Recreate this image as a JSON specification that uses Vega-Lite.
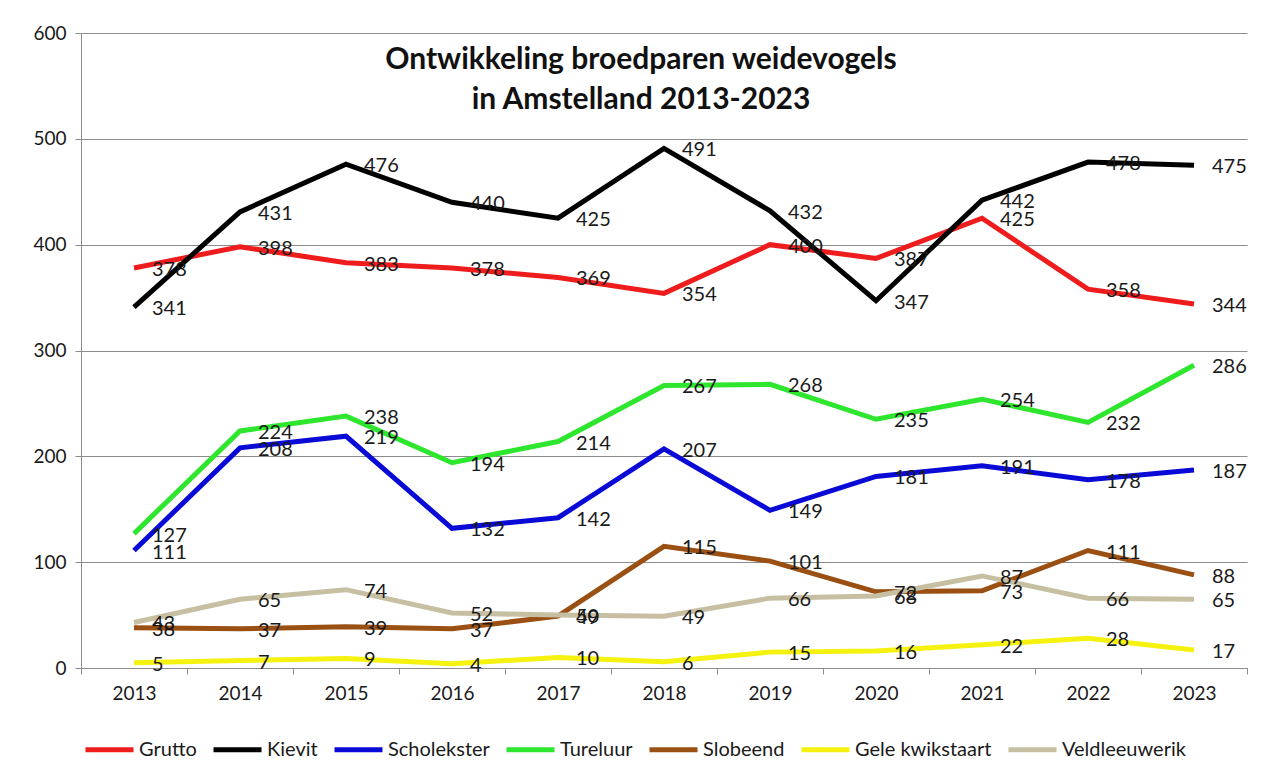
{
  "$schema": "https://vega.github.io/schema/vega-lite/v6.json",
  "width": 1166,
  "height": 635,
  "autosize": {"type": "none"},
  "padding": {"left": 81, "top": 33, "right": 26, "bottom": 109},
  "background": "white",
  "config": {
    "font": "Lato",
    "view": {"stroke": null}
  },
  "title": {
    "text": ["Ontwikkeling broedparen weidevogels", "in Amstelland 2013-2023"],
    "fontSize": 30,
    "fontWeight": "bold",
    "font": "Lato",
    "color": "#111111",
    "lineHeight": 40,
    "anchor": "middle",
    "dx": -23,
    "offset": -91
  },
  "data": {
    "values": [
      {"year": "2013", "species": "Grutto", "value": 378},
      {"year": "2014", "species": "Grutto", "value": 398},
      {"year": "2015", "species": "Grutto", "value": 383},
      {"year": "2016", "species": "Grutto", "value": 378},
      {"year": "2017", "species": "Grutto", "value": 369},
      {"year": "2018", "species": "Grutto", "value": 354},
      {"year": "2019", "species": "Grutto", "value": 400},
      {"year": "2020", "species": "Grutto", "value": 387},
      {"year": "2021", "species": "Grutto", "value": 425},
      {"year": "2022", "species": "Grutto", "value": 358},
      {"year": "2023", "species": "Grutto", "value": 344},
      {"year": "2013", "species": "Kievit", "value": 341},
      {"year": "2014", "species": "Kievit", "value": 431},
      {"year": "2015", "species": "Kievit", "value": 476},
      {"year": "2016", "species": "Kievit", "value": 440},
      {"year": "2017", "species": "Kievit", "value": 425},
      {"year": "2018", "species": "Kievit", "value": 491},
      {"year": "2019", "species": "Kievit", "value": 432},
      {"year": "2020", "species": "Kievit", "value": 347},
      {"year": "2021", "species": "Kievit", "value": 442},
      {"year": "2022", "species": "Kievit", "value": 478},
      {"year": "2023", "species": "Kievit", "value": 475},
      {"year": "2013", "species": "Scholekster", "value": 111},
      {"year": "2014", "species": "Scholekster", "value": 208},
      {"year": "2015", "species": "Scholekster", "value": 219},
      {"year": "2016", "species": "Scholekster", "value": 132},
      {"year": "2017", "species": "Scholekster", "value": 142},
      {"year": "2018", "species": "Scholekster", "value": 207},
      {"year": "2019", "species": "Scholekster", "value": 149},
      {"year": "2020", "species": "Scholekster", "value": 181},
      {"year": "2021", "species": "Scholekster", "value": 191},
      {"year": "2022", "species": "Scholekster", "value": 178},
      {"year": "2023", "species": "Scholekster", "value": 187},
      {"year": "2013", "species": "Tureluur", "value": 127},
      {"year": "2014", "species": "Tureluur", "value": 224},
      {"year": "2015", "species": "Tureluur", "value": 238},
      {"year": "2016", "species": "Tureluur", "value": 194},
      {"year": "2017", "species": "Tureluur", "value": 214},
      {"year": "2018", "species": "Tureluur", "value": 267},
      {"year": "2019", "species": "Tureluur", "value": 268},
      {"year": "2020", "species": "Tureluur", "value": 235},
      {"year": "2021", "species": "Tureluur", "value": 254},
      {"year": "2022", "species": "Tureluur", "value": 232},
      {"year": "2023", "species": "Tureluur", "value": 286},
      {"year": "2013", "species": "Slobeend", "value": 38},
      {"year": "2014", "species": "Slobeend", "value": 37},
      {"year": "2015", "species": "Slobeend", "value": 39},
      {"year": "2016", "species": "Slobeend", "value": 37},
      {"year": "2017", "species": "Slobeend", "value": 49},
      {"year": "2018", "species": "Slobeend", "value": 115},
      {"year": "2019", "species": "Slobeend", "value": 101},
      {"year": "2020", "species": "Slobeend", "value": 72},
      {"year": "2021", "species": "Slobeend", "value": 73},
      {"year": "2022", "species": "Slobeend", "value": 111},
      {"year": "2023", "species": "Slobeend", "value": 88},
      {"year": "2013", "species": "Gele kwikstaart", "value": 5},
      {"year": "2014", "species": "Gele kwikstaart", "value": 7},
      {"year": "2015", "species": "Gele kwikstaart", "value": 9},
      {"year": "2016", "species": "Gele kwikstaart", "value": 4},
      {"year": "2017", "species": "Gele kwikstaart", "value": 10},
      {"year": "2018", "species": "Gele kwikstaart", "value": 6},
      {"year": "2019", "species": "Gele kwikstaart", "value": 15},
      {"year": "2020", "species": "Gele kwikstaart", "value": 16},
      {"year": "2021", "species": "Gele kwikstaart", "value": 22},
      {"year": "2022", "species": "Gele kwikstaart", "value": 28},
      {"year": "2023", "species": "Gele kwikstaart", "value": 17},
      {"year": "2013", "species": "Veldleeuwerik", "value": 43},
      {"year": "2014", "species": "Veldleeuwerik", "value": 65},
      {"year": "2015", "species": "Veldleeuwerik", "value": 74},
      {"year": "2016", "species": "Veldleeuwerik", "value": 52},
      {"year": "2017", "species": "Veldleeuwerik", "value": 50},
      {"year": "2018", "species": "Veldleeuwerik", "value": 49},
      {"year": "2019", "species": "Veldleeuwerik", "value": 66},
      {"year": "2020", "species": "Veldleeuwerik", "value": 68},
      {"year": "2021", "species": "Veldleeuwerik", "value": 87},
      {"year": "2022", "species": "Veldleeuwerik", "value": 66},
      {"year": "2023", "species": "Veldleeuwerik", "value": 65}
    ]
  },
  "encoding": {
    "x": {
      "field": "year",
      "type": "ordinal",
      "scale": {"type": "band", "paddingInner": 0, "paddingOuter": 0},
      "axis": {
        "title": null,
        "labelAngle": 0,
        "labelFontSize": 19,
        "labelColor": "#1a1a1a",
        "labelPadding": 10,
        "tickBand": "extent",
        "tickSize": 6,
        "tickColor": "#8c8c8c",
        "domainColor": "#8c8c8c",
        "grid": false
      }
    },
    "y": {
      "field": "value",
      "type": "quantitative",
      "scale": {"domain": [0, 600], "nice": false},
      "axis": {
        "title": null,
        "values": [0, 100, 200, 300, 400, 500, 600],
        "labelFontSize": 19,
        "labelColor": "#1a1a1a",
        "labelPadding": 9,
        "tickSize": 6,
        "tickColor": "#8c8c8c",
        "domainColor": "#8c8c8c",
        "gridColor": "#8c8c8c",
        "gridWidth": 1
      }
    }
  },
  "layer": [
    {
      "mark": {"type": "line", "strokeWidth": 5, "strokeJoin": "miter"},
      "encoding": {
        "color": {
          "field": "species",
          "type": "nominal",
          "scale": {
            "domain": ["Grutto", "Kievit", "Scholekster", "Tureluur", "Slobeend", "Gele kwikstaart", "Veldleeuwerik"],
            "range": ["#ee1c1c", "#000000", "#0a0ad6", "#2ee62e", "#9a4f13", "#f6f20f", "#c6bfa2"]
          },
          "legend": {
            "title": null,
            "orient": "none",
            "legendX": 2,
            "legendY": 690,
            "direction": "horizontal",
            "symbolType": "stroke",
            "symbolStrokeWidth": 5,
            "symbolSize": 2304,
            "labelFontSize": 20,
            "labelColor": "#1a1a1a",
            "labelOffset": 3,
            "columnPadding": 6
          }
        },
        "order": {"field": "year"}
      }
    },
    {
      "mark": {"type": "text", "align": "left", "baseline": "middle", "dx": 18, "dy": 2, "fontSize": 20, "color": "#1a1a1a"},
      "encoding": {
        "text": {"field": "value", "type": "quantitative"}
      }
    }
  ]
}
